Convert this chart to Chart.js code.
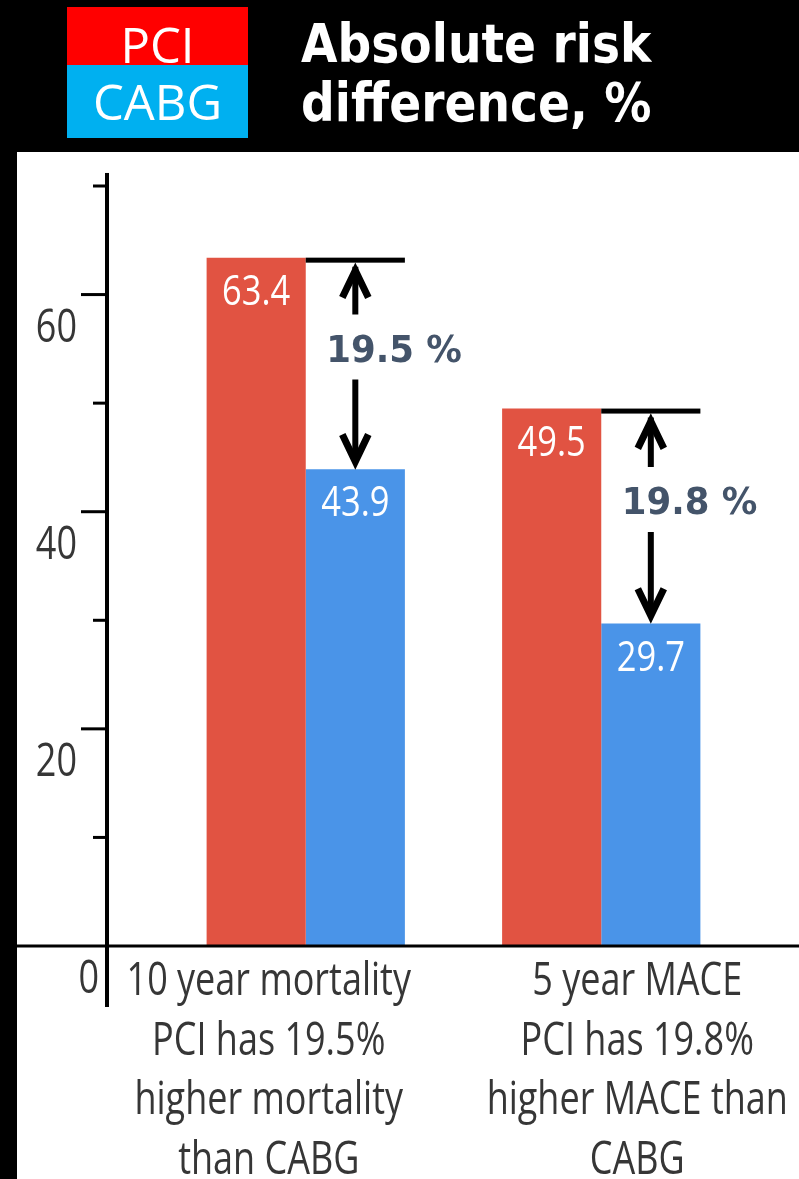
<!DOCTYPE html>
<html>
<head>
<meta charset="utf-8">
<title>Absolute risk difference, %</title>
<script src="https://cdn.jsdelivr.net/npm/chart.js@4.4.1/dist/chart.umd.min.js"></script>
<style>
  html, body { margin: 0; padding: 0; background: #000; }
  canvas { display: block; }
</style>
</head>
<body>
<canvas id="riskChart" width="799" height="1179"></canvas>
<script>
// ---- data ----
const categories = [
  ['10 year mortality', 'PCI has 19.5%', 'higher mortality', 'than CABG'],
  ['5 year MACE', 'PCI has 19.8%', 'higher MACE than', 'CABG']
];
const seriesNames = ['PCI', 'CABG'];
const pciValues = [63.4, 49.5];
const cabgValues = [43.9, 29.7];
const yLabelValues = [0, 20, 40, 60];
const yMajorTicks = [20, 40, 60];
const yMinorTicks = [10, 30, 50, 70];
const titleLines = ['Absolute risk', 'difference, %'];

// ---- styles ----
const BAR_RED = '#e15342';
const BAR_BLUE = '#4a94e8';
const KEY_RED = '#ff0000';
const KEY_BLUE = '#00b0f0';
const AXIS_TEXT = '#363636';
const DIFF_TEXT = '#44546a';
const AXIS_X = 107;                 // vertical axis line position
const LABEL_SHIFT = [-37, 36];      // horizontal shift of category captions

function squeezedText(ctx, text, x, y, font, color, align, sx) {
  ctx.save();
  ctx.translate(x, y);
  ctx.scale(sx, 1);
  ctx.font = font;
  ctx.fillStyle = color;
  ctx.textAlign = align;
  ctx.textBaseline = 'alphabetic';
  ctx.fillText(text, 0, 0);
  ctx.restore();
}

function chevron(ctx, x, tipY, dir) {
  // dir = -1 points up, +1 points down
  const miter = 7.8;
  const vy = tipY - dir * miter;
  ctx.save();
  ctx.beginPath();
  ctx.moveTo(x - 13, vy - dir * 27);
  ctx.lineTo(x, vy);
  ctx.lineTo(x + 13, vy - dir * 27);
  ctx.lineWidth = 7;
  ctx.lineJoin = 'miter';
  ctx.miterLimit = 10;
  ctx.strokeStyle = '#000';
  ctx.stroke();
  ctx.restore();
}

const framePlugin = {
  id: 'frame',
  beforeDraw(chart) {
    const ctx = chart.ctx;
    ctx.save();
    ctx.fillStyle = '#000';
    ctx.fillRect(0, 0, chart.width, chart.height);
    ctx.fillStyle = '#fff';
    ctx.fillRect(17, 152, chart.width - 17, chart.height - 152);

    // series key
    ctx.fillStyle = KEY_RED;
    ctx.fillRect(67, 7, 181, 58);
    ctx.fillStyle = KEY_BLUE;
    ctx.fillRect(67, 65, 181, 73);
    squeezedText(ctx, seriesNames[0], 157.5, 63, '49px "Open Sans"', '#fff', 'center', 1);
    squeezedText(ctx, seriesNames[1], 157.5, 120, '49px "Open Sans"', '#fff', 'center', 1);

    // heading
    squeezedText(ctx, titleLines[0], 301, 62, 'bold 53px "DejaVu Sans"', '#fff', 'left', 0.89);
    squeezedText(ctx, titleLines[1], 301, 121, 'bold 53px "DejaVu Sans"', '#fff', 'left', 0.89);
    ctx.restore();
  },
  afterDraw(chart) {
    const ctx = chart.ctx;
    const xs = chart.scales.x;
    const ys = chart.scales.y;
    const zeroY = ys.getPixelForValue(0);

    ctx.save();
    // value labels inside bars
    chart.data.datasets.forEach((ds, di) => {
      chart.getDatasetMeta(di).data.forEach((el, i) => {
        squeezedText(ctx, ds.data[i].toFixed(1), el.x, el.y + 47,
          '42px "Open Sans"', '#fff', 'center', 0.82);
      });
    });

    // differences between the paired bars
    const pciMeta = chart.getDatasetMeta(0).data;
    const cabgMeta = chart.getDatasetMeta(1).data;
    pciMeta.forEach((pEl, i) => {
      const cEl = cabgMeta[i];
      const redTop = pEl.y;
      const blueTop = cEl.y;
      const left = pEl.x + pEl.width / 2;
      const right = cEl.x + cEl.width / 2;
      ctx.fillStyle = '#000';
      ctx.fillRect(left, redTop, right - left, 5);

      const ax = cEl.x;
      const textMid = (redTop + blueTop) / 2 - 16;
      ctx.strokeStyle = '#000';
      ctx.lineWidth = 6;
      ctx.lineCap = 'butt';
      ctx.beginPath();
      ctx.moveTo(ax, redTop + 9);
      ctx.lineTo(ax, textMid - 33);
      ctx.moveTo(ax, textMid + 32);
      ctx.lineTo(ax, blueTop - 9);
      ctx.stroke();
      chevron(ctx, ax, redTop + 5, -1);
      chevron(ctx, ax, blueTop, 1);

      const diff = (pciValues[i] - cabgValues[i]).toFixed(1) + ' %';
      squeezedText(ctx, diff, ax - 29, textMid + 14, 'bold 37px "DejaVu Sans"', DIFF_TEXT, 'left', 0.96);
    });

    // baseline
    ctx.fillStyle = '#000';
    ctx.fillRect(17, zeroY - 1.5, chart.width - 17, 3);

    // vertical axis line and ticks
    ctx.fillRect(AXIS_X - 2, ys.getPixelForValue(71.2), 4, 1007 - ys.getPixelForValue(71.2));
    yMajorTicks.forEach(v => {
      const y = ys.getPixelForValue(v);
      ctx.fillRect(AXIS_X - 26, y - 1.5, 26, 3);
    });
    yMinorTicks.forEach(v => {
      const y = ys.getPixelForValue(v);
      ctx.fillRect(AXIS_X - 14, y - 1.5, 14, 3);
    });
    yLabelValues.forEach(v => {
      const y = ys.getPixelForValue(v) + 47;
      const x = v === 0 ? AXIS_X - 8 : 77;
      squeezedText(ctx, String(v), x, y, '45px "Open Sans"', AXIS_TEXT, 'right', 0.8);
    });

    // category captions
    chart.data.labels.forEach((lines, i) => {
      const cx = xs.getPixelForTick(i) + LABEL_SHIFT[i];
      lines.forEach((line, j) => {
        squeezedText(ctx, line, cx, zeroY + 49 + j * 59.5, '45px "Open Sans"', AXIS_TEXT, 'center', 0.8);
      });
    });
    ctx.restore();
  }
};

new Chart(document.getElementById('riskChart'), {
  type: 'bar',
  data: {
    labels: categories,
    datasets: [
      { label: seriesNames[0], data: pciValues, backgroundColor: BAR_RED, borderWidth: 0 },
      { label: seriesNames[1], data: cabgValues, backgroundColor: BAR_BLUE, borderWidth: 0 }
    ]
  },
  options: {
    responsive: false,
    devicePixelRatio: 1,
    animation: false,
    layout: { padding: { left: 158, right: 50, top: 186, bottom: 233 } },
    datasets: { bar: { categoryPercentage: 0.671, barPercentage: 1.0 } },
    scales: {
      x: { display: false, offset: true },
      y: { display: false, min: 0, max: 70 }
    },
    plugins: {
      legend: { display: false },
      tooltip: { enabled: false }
    }
  },
  plugins: [framePlugin]
});
</script>
</body>
</html>
